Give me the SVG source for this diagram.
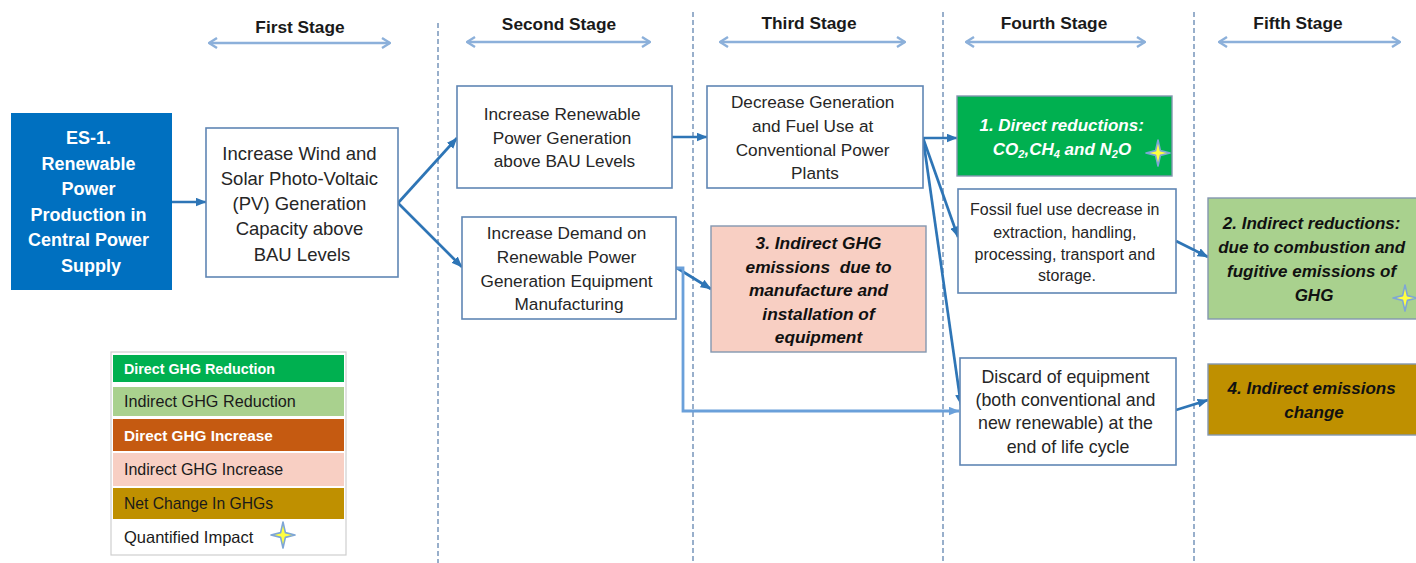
<svg xmlns="http://www.w3.org/2000/svg" width="1416" height="563" viewBox="0 0 1416 563">
  <defs>
    <style>
      .t { font-family: "Liberation Sans", Arial, sans-serif; fill: #262626; text-anchor: middle; dominant-baseline: central; }
      .hdr { font-size: 17.3px; font-weight: bold; fill: #1a1a1a; }
      .b { font-weight: bold; }
      .bi { font-weight: bold; font-style: italic; fill: #111; }
      .w { fill: #ffffff; }
      .box { fill: #ffffff; stroke: #5f86b4; stroke-width: 1.6; }
      .cbox { stroke: #8497b0; stroke-width: 1.4; }
      .stage-div { stroke: #7f9cbf; stroke-width: 1.6; stroke-dasharray: 5 3; fill: none; }
      .stage-span { stroke: #8cb0da; stroke-width: 2.6; fill: none; }
      .conn { stroke: #2e75b6; stroke-width: 2.7; fill: none; }
      .conn-lt { stroke: #6aa0da; stroke-width: 2.8; fill: none; }
      .lg { font-family: "Liberation Sans", Arial, sans-serif; dominant-baseline: central; fill: #1a1a1a; }
    </style>
    <marker id="ah" viewBox="0 0 10 8" refX="9.5" refY="4" markerWidth="11" markerHeight="9" markerUnits="userSpaceOnUse" orient="auto">
      <path d="M0,0 L10,4 L0,8 z" fill="#2e75b6"/>
    </marker>
    <marker id="ah-lt" viewBox="0 0 10 8" refX="9.5" refY="4" markerWidth="11" markerHeight="9" markerUnits="userSpaceOnUse" orient="auto">
      <path d="M0,0 L10,4 L0,8 z" fill="#6aa0da"/>
    </marker>
    <marker id="chev" viewBox="0 0 10 12" refX="9" refY="6" markerWidth="10" markerHeight="12" markerUnits="userSpaceOnUse" orient="auto-start-reverse">
      <path d="M1,1 L9,6 L1,11" fill="none" stroke="#8cb0da" stroke-width="2.4"/>
    </marker>
    <g id="star">
      <polygon points="0,-13 2.4,-2.4 12,0 2.4,2.4 0,13 -2.4,2.4 -12,0 -2.4,-2.4" fill="#ffff40" stroke="#7ea6d6" stroke-width="1.6" stroke-linejoin="round"/>
    </g>
  </defs>

  <rect x="0" y="0" width="1416" height="563" fill="#ffffff"/>

  <!-- stage dividers -->
  <g id="dividers">
    <line class="stage-div" x1="438" y1="23" x2="438" y2="563"/>
    <line class="stage-div" x1="693" y1="12" x2="693" y2="563"/>
    <line class="stage-div" x1="943" y1="12" x2="943" y2="563"/>
    <line class="stage-div" x1="1194" y1="12" x2="1194" y2="563"/>
  </g>

  <!-- stage headers -->
  <g id="stages">
    <text class="t hdr" x="300" y="27">First Stage</text>
    <line class="stage-span" x1="209" y1="43" x2="390" y2="43" marker-start="url(#chev)" marker-end="url(#chev)"/>
    <text class="t hdr" x="559" y="24">Second Stage</text>
    <line class="stage-span" x1="467" y1="42" x2="650" y2="42" marker-start="url(#chev)" marker-end="url(#chev)"/>
    <text class="t hdr" x="809" y="23">Third Stage</text>
    <line class="stage-span" x1="720" y1="42" x2="905" y2="42" marker-start="url(#chev)" marker-end="url(#chev)"/>
    <text class="t hdr" x="1054" y="23">Fourth Stage</text>
    <line class="stage-span" x1="966" y1="42" x2="1145" y2="42" marker-start="url(#chev)" marker-end="url(#chev)"/>
    <text class="t hdr" x="1298" y="23">Fifth Stage</text>
    <line class="stage-span" x1="1219" y1="42" x2="1400" y2="42" marker-start="url(#chev)" marker-end="url(#chev)"/>
  </g>

  <!-- connectors -->
  <g id="connectors">
    <line class="conn" x1="172" y1="202" x2="206" y2="202" marker-end="url(#ah)"/>
    <line class="conn" x1="398" y1="203" x2="457" y2="138" marker-end="url(#ah)"/>
    <line class="conn" x1="398" y1="203" x2="462" y2="267" marker-end="url(#ah)"/>
    <line class="conn" x1="672" y1="137" x2="707" y2="137" marker-end="url(#ah)"/>
    <line class="conn" x1="677" y1="268" x2="711" y2="289" marker-end="url(#ah)"/>
    <polyline class="conn-lt" points="676,268 683,268 683,411 959,411" marker-end="url(#ah-lt)"/>
    <line class="conn" x1="923" y1="138" x2="957" y2="138" marker-end="url(#ah)"/>
    <line class="conn" x1="923" y1="138" x2="958" y2="237" marker-end="url(#ah)"/>
    <line class="conn" x1="923" y1="138" x2="961" y2="405" marker-end="url(#ah)"/>
    <line class="conn" x1="1176" y1="241" x2="1208" y2="257" marker-end="url(#ah)"/>
    <line class="conn" x1="1176" y1="410" x2="1208" y2="400" marker-end="url(#ah)"/>
  </g>

  <!-- ES-1 measure -->
  <g id="es1">
    <rect x="11" y="113" width="161" height="177" fill="#0070c0"/>
    <text class="t b w" font-size="18">
      <tspan x="91" y="138">ES-1.</tspan>
      <tspan x="91" y="163.5">Renewable</tspan>
      <tspan x="91" y="189">Power</tspan>
      <tspan x="91" y="214.5">Production in</tspan>
      <tspan x="91" y="240">Central Power</tspan>
      <tspan x="91" y="265.5">Supply</tspan>
    </text>
  </g>

  <!-- first stage -->
  <g id="capacity">
    <rect class="box" x="206" y="128" width="192" height="149"/>
    <text class="t" font-size="18.5">
      <tspan x="302" y="153">Increase Wind and</tspan>
      <tspan x="302" y="178">Solar Photo-Voltaic</tspan>
      <tspan x="302" y="203">(PV) Generation</tspan>
      <tspan x="302" y="228">Capacity above</tspan>
      <tspan x="302" y="253.5">BAU Levels</tspan>
    </text>
  </g>

  <!-- second stage -->
  <g id="renewable-generation">
    <rect class="box" x="457" y="86" width="215" height="102"/>
    <text class="t" font-size="17.2">
      <tspan x="564.5" y="114">Increase Renewable</tspan>
      <tspan x="564.5" y="138">Power Generation</tspan>
      <tspan x="564.5" y="161">above BAU Levels</tspan>
    </text>
  </g>
  <g id="equipment-demand">
    <rect class="box" x="462" y="217" width="214" height="102"/>
    <text class="t" font-size="17.2">
      <tspan x="569" y="233">Increase Demand on</tspan>
      <tspan x="569" y="257">Renewable Power</tspan>
      <tspan x="569" y="281">Generation Equipment</tspan>
      <tspan x="569" y="304">Manufacturing</tspan>
    </text>
  </g>

  <!-- third stage -->
  <g id="conventional">
    <rect class="box" x="707" y="86" width="216" height="102"/>
    <text class="t" font-size="17.2">
      <tspan x="815" y="102">Decrease Generation</tspan>
      <tspan x="815" y="126">and Fuel Use at</tspan>
      <tspan x="815" y="149.5">Conventional Power</tspan>
      <tspan x="815" y="173">Plants</tspan>
    </text>
  </g>
  <g id="manufacture-emissions">
    <rect class="cbox" x="711" y="226" width="215" height="126" fill="#f8cfc3"/>
    <text class="t bi" font-size="17.3" xml:space="preserve"><tspan x="818.5" y="243">3. Indirect GHG</tspan><tspan x="818.5" y="267">emissions  due to</tspan><tspan x="818.5" y="290">manufacture and</tspan><tspan x="818.5" y="313.5">installation of</tspan><tspan x="818.5" y="337">equipment</tspan></text>
  </g>

  <!-- fourth stage -->
  <g id="direct-reductions">
    <rect class="cbox" x="957" y="96" width="215" height="80" fill="#00b050"/>
    <text class="t bi w" font-size="17">
      <tspan x="1064" y="125">1. Direct reductions:</tspan>
      <tspan x="1062" y="149">CO<tspan font-size="11" dy="5">2</tspan><tspan dy="-5">,CH</tspan><tspan font-size="11" dy="5">4</tspan><tspan dy="-5"> and N</tspan><tspan font-size="11" dy="5">2</tspan><tspan dy="-5">O</tspan></tspan>
    </text>
    <use href="#star" x="1158" y="153"/>
  </g>
  <g id="fossil-fuel">
    <rect class="box" x="958" y="189" width="218" height="104"/>
    <text class="t" font-size="16">
      <tspan x="1067" y="209">Fossil fuel use decrease in</tspan>
      <tspan x="1067" y="231.5">extraction, handling,</tspan>
      <tspan x="1067" y="253.5">processing, transport and</tspan>
      <tspan x="1067" y="275">storage.</tspan>
    </text>
  </g>
  <g id="discard">
    <rect class="box" x="960" y="358" width="216" height="107"/>
    <text class="t" font-size="17.8">
      <tspan x="1068" y="377">Discard of equipment</tspan>
      <tspan x="1068" y="400">(both conventional and</tspan>
      <tspan x="1068" y="423">new renewable) at the</tspan>
      <tspan x="1068" y="447">end of life cycle</tspan>
    </text>
  </g>

  <!-- fifth stage -->
  <g id="indirect-reductions">
    <rect class="cbox" x="1208" y="198" width="212" height="121" fill="#a9d18e"/>
    <text class="t bi" font-size="17">
      <tspan x="1314" y="223">2. Indirect reductions:</tspan>
      <tspan x="1314" y="247">due to combustion and</tspan>
      <tspan x="1314" y="270.5">fugitive emissions of</tspan>
      <tspan x="1314" y="295">GHG</tspan>
    </text>
    <use href="#star" x="1405" y="298"/>
  </g>
  <g id="indirect-change">
    <rect class="cbox" x="1208" y="364" width="212" height="71" fill="#bf9000"/>
    <text class="t bi" font-size="17">
      <tspan x="1314" y="388">4. Indirect emissions</tspan>
      <tspan x="1314" y="412">change</tspan>
    </text>
  </g>

  <!-- key -->
  <g id="legend">
    <rect x="111" y="352" width="235" height="203" fill="#ffffff" stroke="#cfcfcf" stroke-width="1.2"/>
    <rect x="113" y="355" width="231" height="27" fill="#00b050"/>
    <rect x="113" y="387" width="231" height="29" fill="#a9d18e"/>
    <rect x="113" y="419" width="231" height="32" fill="#c55a11"/>
    <rect x="113" y="453" width="231" height="33" fill="#f8cfc3"/>
    <rect x="113" y="488" width="231" height="31" fill="#bf9000"/>
    <text class="lg b" x="124" y="369" font-size="14.3" style="fill:#ffffff">Direct GHG Reduction</text>
    <text class="lg" x="124" y="401" font-size="16.2">Indirect GHG Reduction</text>
    <text class="lg b" x="124" y="435" font-size="15.3" style="fill:#ffffff">Direct GHG Increase</text>
    <text class="lg" x="124" y="469" font-size="16">Indirect GHG Increase</text>
    <text class="lg" x="124" y="503" font-size="15.7">Net Change In GHGs</text>
    <text class="lg" x="124" y="537" font-size="16.5">Quantified Impact</text>
    <use href="#star" x="283" y="535"/>
  </g>
</svg>
